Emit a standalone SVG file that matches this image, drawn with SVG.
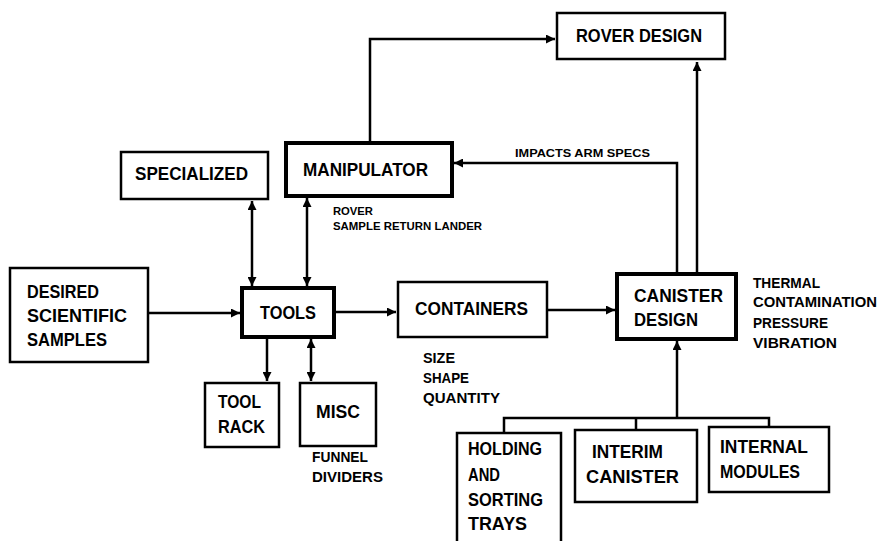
<svg xmlns="http://www.w3.org/2000/svg" width="881" height="541" viewBox="0 0 881 541">
<defs>
<marker id="ah" viewBox="0 0 10 10" refX="10" refY="5" markerWidth="10" markerHeight="9" markerUnits="userSpaceOnUse" orient="auto-start-reverse">
<path d="M0,0 L10,5 L0,10 z" fill="#000"/>
</marker>
<style>
.box{fill:#fff;stroke:#000;stroke-width:2.5}
.thick{stroke-width:4}
.c{fill:none;stroke:#000;stroke-width:2.5}
text{font-family:"Liberation Sans",Arial,sans-serif;font-weight:bold;fill:#000}
.L{font-size:18px}
.S{font-size:11px}
.M{font-size:14px}
</style>
</defs>
<rect width="881" height="541" fill="#fff"/>
<g id="connectors">
<path class="c" d="M370,143 V39 H555" marker-end="url(#ah)"/>
<path class="c" d="M697,274 V62" marker-end="url(#ah)"/>
<path class="c" d="M677,274 V163 H454" marker-end="url(#ah)"/>
<path class="c" d="M148,313 H240" marker-end="url(#ah)"/>
<path class="c" d="M334,312 H396" marker-end="url(#ah)"/>
<path class="c" d="M547,310 H615" marker-end="url(#ah)"/>
<path class="c" d="M252,201 V286" marker-start="url(#ah)" marker-end="url(#ah)"/>
<path class="c" d="M307,198 V286" marker-start="url(#ah)" marker-end="url(#ah)"/>
<path class="c" d="M267,339 V381" marker-end="url(#ah)"/>
<path class="c" d="M311,339 V381" marker-start="url(#ah)" marker-end="url(#ah)"/>
<path class="c" d="M677,418 V341" marker-end="url(#ah)"/>
<path class="c" d="M504,433 V418 H769 V427 M636,418 V430"/>
</g>
<g id="rover-design"><rect class="box" x="557" y="13" width="168" height="46"/><text class="L" x="576" y="42" textLength="126" lengthAdjust="spacingAndGlyphs">ROVER DESIGN</text></g>
<g id="specialized"><rect class="box" x="121" y="152" width="147" height="47"/><text class="L" x="135" y="180" textLength="113" lengthAdjust="spacingAndGlyphs">SPECIALIZED</text></g>
<g id="manipulator"><rect class="box thick" x="286" y="143" width="166" height="53"/><text class="L" x="303" y="176" textLength="125" lengthAdjust="spacingAndGlyphs">MANIPULATOR</text></g>
<g id="impacts-label"><text class="S" x="515" y="157" textLength="135" lengthAdjust="spacingAndGlyphs">IMPACTS ARM SPECS</text></g>
<g id="manipulator-notes"><text class="S" x="333" y="215" textLength="40" lengthAdjust="spacingAndGlyphs">ROVER</text><text class="S" x="333" y="230" textLength="149" lengthAdjust="spacingAndGlyphs">SAMPLE RETURN LANDER</text></g>
<g id="desired"><rect class="box" x="10" y="268" width="138" height="94"/><text class="L" x="27" y="298" textLength="72" lengthAdjust="spacingAndGlyphs">DESIRED</text><text class="L" x="27" y="322" textLength="100" lengthAdjust="spacingAndGlyphs">SCIENTIFIC</text><text class="L" x="27" y="346" textLength="80" lengthAdjust="spacingAndGlyphs">SAMPLES</text></g>
<g id="tools"><rect class="box thick" x="242" y="288" width="92" height="49"/><text class="L" x="260" y="319" textLength="56" lengthAdjust="spacingAndGlyphs">TOOLS</text></g>
<g id="containers"><rect class="box" x="398" y="282" width="149" height="55"/><text class="L" x="415" y="315" textLength="113" lengthAdjust="spacingAndGlyphs">CONTAINERS</text></g>
<g id="containers-notes"><text class="M" x="423" y="363" textLength="32" lengthAdjust="spacingAndGlyphs">SIZE</text><text class="M" x="423" y="383" textLength="46" lengthAdjust="spacingAndGlyphs">SHAPE</text><text class="M" x="423" y="403" textLength="77" lengthAdjust="spacingAndGlyphs">QUANTITY</text></g>
<g id="canister-design"><rect class="box thick" x="617" y="274" width="119" height="65"/><text class="L" x="634" y="302" textLength="89" lengthAdjust="spacingAndGlyphs">CANISTER</text><text class="L" x="634" y="326" textLength="64" lengthAdjust="spacingAndGlyphs">DESIGN</text></g>
<g id="canister-notes"><text class="M" x="753" y="288" textLength="67" lengthAdjust="spacingAndGlyphs">THERMAL</text><text class="M" x="753" y="307" textLength="124" lengthAdjust="spacingAndGlyphs">CONTAMINATION</text><text class="M" x="753" y="328" textLength="75" lengthAdjust="spacingAndGlyphs">PRESSURE</text><text class="M" x="753" y="348" textLength="84" lengthAdjust="spacingAndGlyphs">VIBRATION</text></g>
<g id="tool-rack"><rect class="box" x="205" y="383" width="74" height="64"/><text class="L" x="218" y="408" textLength="43" lengthAdjust="spacingAndGlyphs">TOOL</text><text class="L" x="218" y="433" textLength="47" lengthAdjust="spacingAndGlyphs">RACK</text></g>
<g id="misc"><rect class="box" x="300" y="383" width="76" height="63"/><text class="L" x="316" y="418" textLength="44" lengthAdjust="spacingAndGlyphs">MISC</text></g>
<g id="misc-notes"><text class="M" x="312" y="462" textLength="56" lengthAdjust="spacingAndGlyphs">FUNNEL</text><text class="M" x="312" y="482" textLength="71" lengthAdjust="spacingAndGlyphs">DIVIDERS</text></g>
<g id="holding"><path class="box" d="M457,545 V433 H561 V545"/><text class="L" x="468" y="455" textLength="74" lengthAdjust="spacingAndGlyphs">HOLDING</text><text class="L" x="468" y="481" textLength="32" lengthAdjust="spacingAndGlyphs">AND</text><text class="L" x="468" y="506" textLength="75" lengthAdjust="spacingAndGlyphs">SORTING</text><text class="L" x="468" y="530" textLength="59" lengthAdjust="spacingAndGlyphs">TRAYS</text></g>
<g id="interim"><rect class="box" x="575" y="430" width="122" height="72"/><text class="L" x="592" y="458" textLength="71" lengthAdjust="spacingAndGlyphs">INTERIM</text><text class="L" x="586" y="483" textLength="93" lengthAdjust="spacingAndGlyphs">CANISTER</text></g>
<g id="internal"><rect class="box" x="709" y="427" width="120" height="65"/><text class="L" x="720" y="453" textLength="88" lengthAdjust="spacingAndGlyphs">INTERNAL</text><text class="L" x="720" y="478" textLength="80" lengthAdjust="spacingAndGlyphs">MODULES</text></g>
</svg>
